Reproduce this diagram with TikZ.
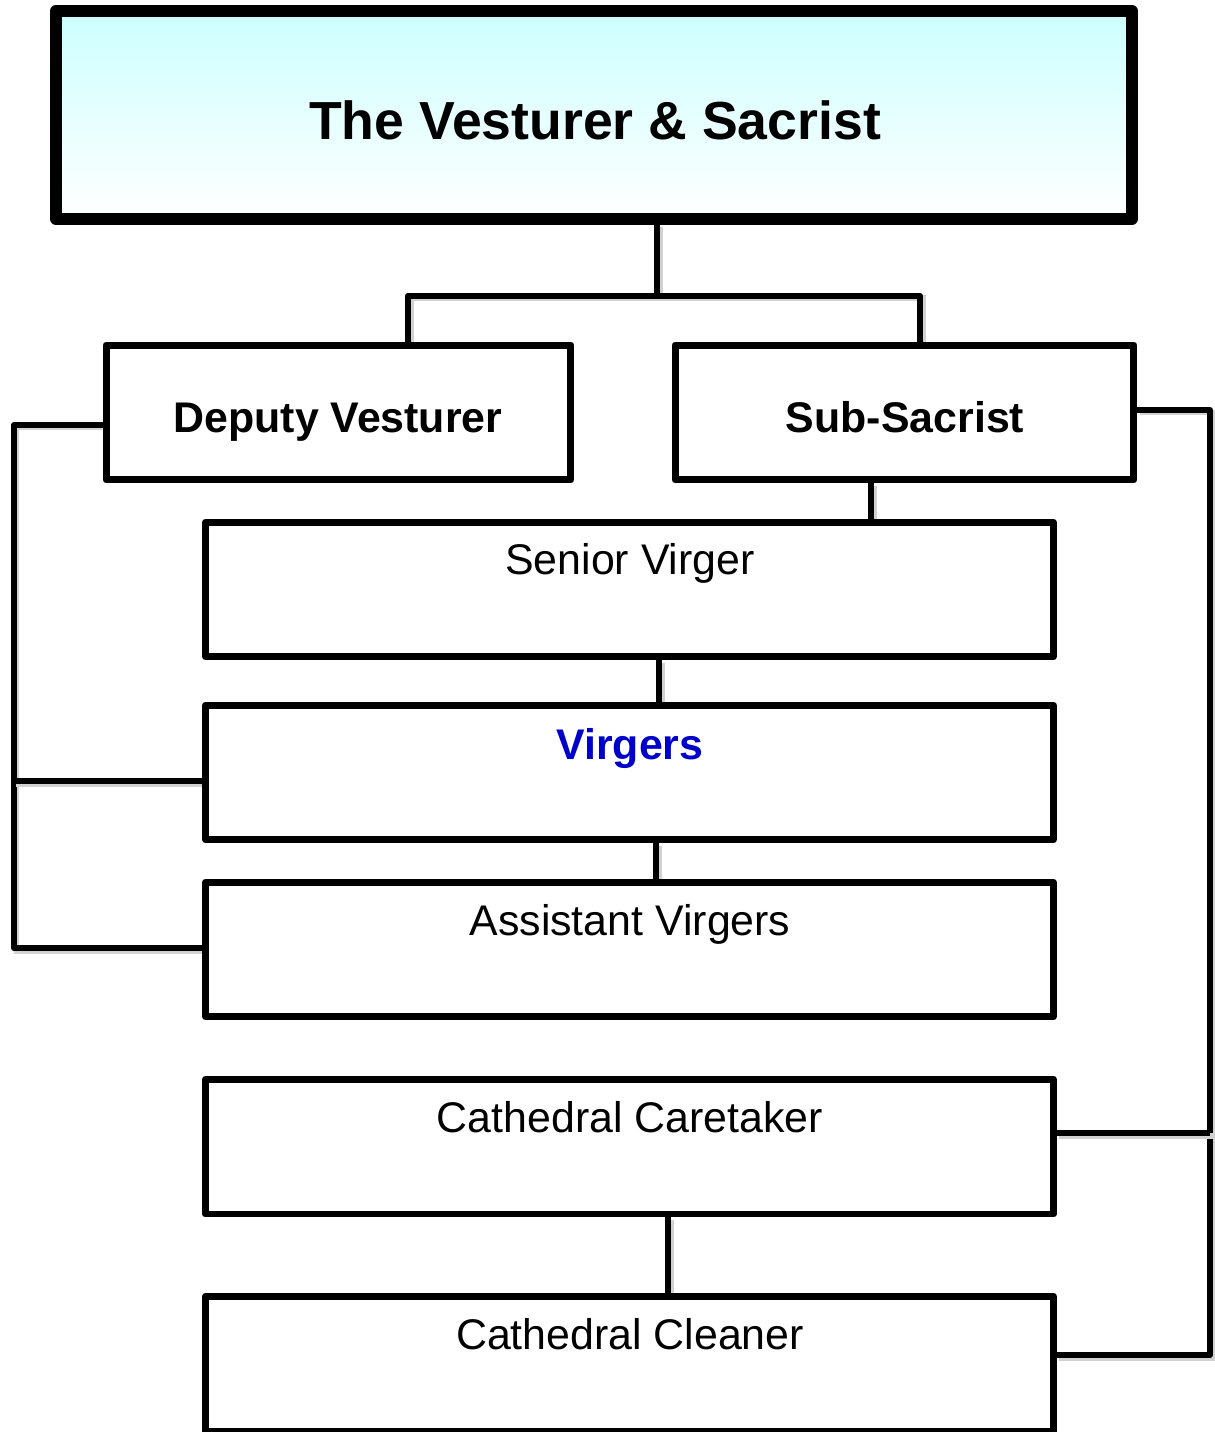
\documentclass[tikz,border=0pt]{standalone}
\usepackage{fontspec}
\setmainfont{Liberation Sans}
\usetikzlibrary{positioning,backgrounds}
\definecolor{paleaqua}{HTML}{CCFFFF}
\definecolor{virgerblue}{HTML}{0000CC}
\tikzset{
    box/.style={draw=black,rectangle,line width=0.14cm,line join=round,fill=white,inner sep=0pt},
    conn/.style={draw=black,line width=0.12cm,line join=round,
                 preaction={draw=black!18,line width=0.12cm,transform canvas={xshift=0.05cm,yshift=-0.05cm}}},
    headtext/.style={anchor=base,font=\bfseries\fontsize{24.4}{29}\selectfont},
    roletext/.style={anchor=base,font=\fontsize{24.4}{29}\selectfont}
}
\begin{document}
\begin{tikzpicture}[x=0.02cm,y=-0.02cm]
\useasboundingbox (0,0) rectangle (1214,1432);
% junction points of the links
\coordinate (tj) at (657,296);
\coordinate (lj) at (408,296);
\coordinate (rj) at (920,296);
\coordinate (sj) at (871,500);
\coordinate (vj1) at (659,680);
\coordinate (vj2) at (656,860);
\coordinate (cj) at (668,1255);
\coordinate (lb1) at (14,425);
\coordinate (lb2) at (14,781);
\coordinate (lb3) at (14,948);
\coordinate (rb1) at (1210,410);
\coordinate (rb2) at (1210,1133);
\coordinate (rb3) at (1210,1355);
% boxes
\begin{scope}[every node/.style={box}]
    \node[line width=0.24cm,top color=paleaqua,bottom color=white,
          minimum width=21.52cm,minimum height=4.16cm] (top) at (594,115) {};
    \node[minimum width=9.3cm,minimum height=2.7cm] (dep) at (338.5,412.5) {};
    \node[minimum width=9.18cm,minimum height=2.7cm] (sub) at (904.5,412.5) {};
    \node[minimum width=16.96cm,minimum height=2.7cm] (sv) at (629.5,589.5) {};
    \node[minimum width=16.96cm,minimum height=2.7cm] (vg) at (629.5,772.5) {};
    \node[minimum width=16.96cm,minimum height=2.7cm] (av) at (629.5,949.5) {};
    \node[minimum width=16.96cm,minimum height=2.7cm] (ct) at (629.5,1146.5) {};
    \node[minimum width=16.96cm,minimum height=2.7cm] (cc) at (629.5,1363.5) {};
\end{scope}
% texts
\node[anchor=base,font=\bfseries\fontsize{30.5}{36}\selectfont] (topt) at (595,140) {The Vesturer \& Sacrist};
\node[headtext] (dept) at (338,432) {Deputy Vesturer};
\node[headtext] (subt) at (905,432) {Sub-Sacrist};
\node[roletext] (svt) at (630,574) {Senior Virger};
\node[headtext,text=virgerblue] (vgt) at (630,759) {Virgers};
\node[roletext] (avt) at (630,935) {Assistant Virgers};
\node[roletext] (ctt) at (630,1132) {Cathedral Caretaker};
\node[roletext] (cct) at (630,1349) {Cathedral Cleaner};
% links
\begin{scope}[on background layer]
    \draw[conn] (top.south -| tj) -- (tj);
    \draw[conn] (dep.north -| lj) -- (lj) -- (rj) -- (sub.north -| rj);
    \draw[conn] (sub.south -| sj) -- (sv.north -| sj);
    \draw[conn] (sv.south -| vj1) -- (vg.north -| vj1);
    \draw[conn] (vg.south -| vj2) -- (av.north -| vj2);
    \draw[conn] (ct.south -| cj) -- (cc.north -| cj);
    \draw[conn] (dep.west |- lb1) -- (lb1) -- (lb3) -- (av.west |- lb3);
    \draw[conn] (lb2) -- (vg.west |- lb2);
    \draw[conn] (sub.east |- rb1) -- (rb1) -- (rb3) -- (cc.east |- rb3);
    \draw[conn] (rb2) -- (ct.east |- rb2);
\end{scope}
\end{tikzpicture}
\end{document}
